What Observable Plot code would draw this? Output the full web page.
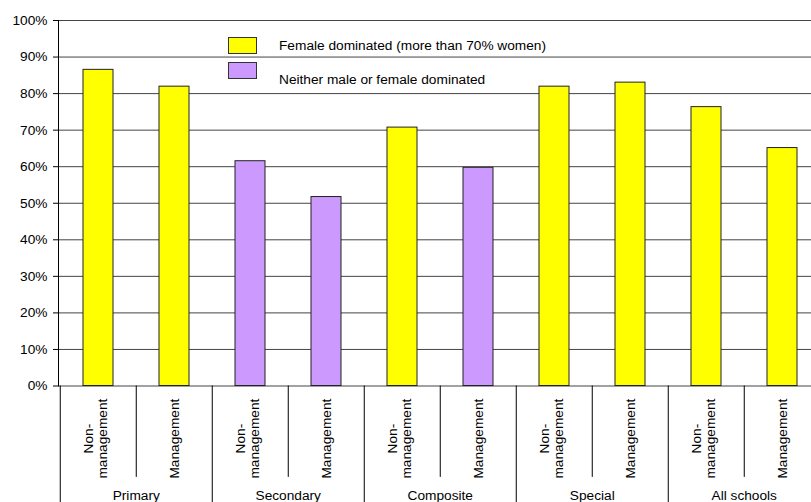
<!DOCTYPE html>
<html>
<head>
<meta charset="utf-8">
<script src="https://cdn.jsdelivr.net/npm/d3@7"></script>
<script src="https://cdn.jsdelivr.net/npm/@observablehq/plot@0.6"></script>
<style>
  html, body { margin: 0; padding: 0; background: #fff; overflow: hidden; }
  #wrap { position: relative; width: 811px; height: 502px; overflow: hidden; font-family: "Liberation Sans", Arial, sans-serif; }
  #wrap svg { max-width: none !important; display: block; }
  #legend { position: absolute; left: 228px; top: 37px; font-size: 13.7px; color: #000; }
  .item { position: relative; height: 25px; }
  .sw { position: absolute; left: 0; top: 0; width: 27px; height: 15px; border: 1px solid #333; }
  .lab { position: absolute; left: 51px; white-space: nowrap; }
</style>
</head>
<body>
<div id="wrap"></div>
<script>
// ---- data ----
const groups = ["Primary", "Secondary", "Composite", "Special", "All schools"];
const roles = ["Non-\nmanagement", "Management"];
const values = [86.5, 81.9, 61.5, 51.7, 70.7, 59.7, 81.9, 83.0, 76.3, 65.1];
const seriesNames = ["Female dominated (more than 70% women)", "Neither male or female dominated"];
const seriesOfBar = [0, 0, 1, 1, 0, 1, 0, 0, 0, 0];
const yTicks = [0, 10, 20, 30, 40, 50, 60, 70, 80, 90, 100];
const colors = ["#FFFF00", "#CC99FF"];

// ---- table ----
const bars = [];
groups.forEach((g, gi) => roles.forEach((r, ri) => {
  const i = gi * roles.length + ri;
  bars.push({key: g + "|" + r, group: g, role: r, first: ri === 0, value: values[i], series: seriesNames[seriesOfBar[i]]});
}));
const groupCenters = groups.map(g => ({group: g, key: g + "|" + roles[roles.length - 1]}));

const W = 823, H = 502, mL = 58, mR = 0, mT = 20, mB = 116.5;
const step = (W - mL - mR) / bars.length;
const FS = 13.7;

const plot = Plot.plot({
  width: W, height: H,
  marginLeft: mL, marginRight: mR, marginTop: mT, marginBottom: mB,
  style: {fontFamily: "'Liberation Sans', Arial, sans-serif", fontSize: FS + "px", background: "#fff", maxWidth: "none"},
  x: {domain: bars.map(d => d.key), paddingInner: 0.605, paddingOuter: 0.3025, axis: null},
  y: {domain: [0, 100], axis: null},
  color: {domain: seriesNames, range: colors},
  marks: [
    Plot.gridY(yTicks, {stroke: "#444", strokeOpacity: 1}),
    Plot.axisY(yTicks, {label: null, tickSize: 5, tickPadding: 6, tickFormat: d => d + "%", fontSize: FS, stroke: "#000"}),
    Plot.frame({anchor: "left", stroke: "#000"}),
    Plot.barY(bars, {x: "key", y: "value", fill: "series", stroke: "#222", strokeWidth: 1}),
    // category separators below axis
    Plot.ruleX(bars.filter(d => !d.first), {x: "key", y1: 0, y2: -25, dx: -step / 2, stroke: "#000"}),
    Plot.ruleX(bars.filter(d => d.first), {x: "key", y1: 0, y2: -40, dx: -step / 2, stroke: "#000"}),
    // rotated role labels
    Plot.text(bars.filter(d => d.first), {x: "key", y: -14.4, text: "role", rotate: -90, textAnchor: "middle", lineHeight: 1.05, dx: -3, fontSize: FS, fill: "#000"}),
    Plot.text(bars.filter(d => !d.first), {x: "key", y: -14.4, text: "role", rotate: -90, textAnchor: "middle", fontSize: FS, fill: "#000"}),
    // group labels
    Plot.text(groupCenters, {x: "key", y: -30.0, text: "group", dx: -step / 2, fontSize: FS, fill: "#000"})
  ]
});
document.getElementById("wrap").appendChild(plot);

// legend
const leg = document.createElement("div");
leg.id = "legend";
seriesNames.forEach((s, i) => {
  const it = document.createElement("div");
  it.className = "item";
  it.innerHTML = `<div class="sw" style="background:${colors[i]}"></div><div class="lab" style="top:${i === 0 ? 1 : 10}px">${s}</div>`;
  leg.appendChild(it);
});
document.getElementById("wrap").appendChild(leg);
</script>
</body>
</html>
